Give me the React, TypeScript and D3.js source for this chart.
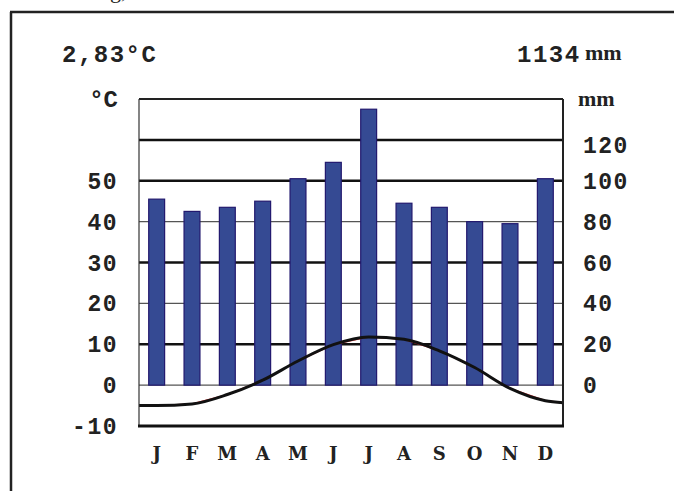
import React from "react";
import * as d3 from "d3";

const months = ["J", "F", "M", "A", "M", "J", "J", "A", "S", "O", "N", "D"];
const precip = [91, 85, 87, 90, 101, 109, 135, 89, 87, 80, 79, 101];
const temp = [-5.0, -4.6, -2.3, 1.2, 5.9, 9.9, 11.8, 11.2, 8.4, 4.3, -0.8, -3.8];
const tempEdges = [-5.0, -4.3];
const tempTicks = [-10, 0, 10, 20, 30, 40, 50];
const precipTicks = [0, 20, 40, 60, 80, 100, 120];
const gridTemps = [0, 10, 20, 30, 40, 50, 60];
const thickGrid = [10, 30, 50, 60];
const annualTemp = "2,83°C";
const annualPrecip = "1134";

export default function App() {
  const W = 674, H = 491;
  const left = 139, right = 563, top = 99, bottom = 426;
  const yT = d3.scaleLinear().domain([-10, 70]).range([bottom, top]);
  const yP = d3.scaleLinear().domain([-20, 140]).range([bottom, top]);
  const xB = d3.scaleBand<number>().domain(d3.range(12)).range([left, right]).paddingInner(0.55).paddingOuter(0.275);
  const xL = d3.scaleLinear().domain([0, 12]).range([left, right]);

  const pts: [number, number][] = [
    [0, tempEdges[0]],
    ...temp.map((t, i) => [i + 0.5, t] as [number, number]),
    [12, tempEdges[1]],
  ];
  const curve = d3.line<[number, number]>().x(d => xL(d[0])).y(d => yT(d[1])).curve(d3.curveMonotoneX);
  const straight = d3.line<[number, number]>().x(d => xL(d[0])).y(d => yT(d[1]));

  const mono = "'Liberation Mono', 'DejaVu Sans Mono', monospace";
  const serif = "'Liberation Serif', 'DejaVu Serif', serif";
  const slab = "'DejaVu Serif', 'Liberation Serif', serif";

  return (
    <svg width={W} height={H} style={{ position: "absolute", left: 0, top: 0, background: "#fff" }}>
      <rect x={0} y={0} width={W} height={H} fill="#fff" />
      <text x={110} y={-2} fontFamily={serif} fontSize={22} fill="#222">g,</text>
      {/* outer frame */}
      <line x1={10} y1={12} x2={W} y2={12} stroke="#222" strokeWidth={2.5} />
      <line x1={11} y1={12} x2={11} y2={H} stroke="#222" strokeWidth={2.5} />

      {/* header */}
      <text x={62} y={62} fontFamily={mono} fontWeight="bold" fontSize={24} letterSpacing={1.5} fill="#222">{annualTemp}</text>
      <text x={517} y={62} fontFamily={mono} fontWeight="bold" fontSize={24} letterSpacing={1.5} fill="#222">{annualPrecip}</text>
      <text x={585} y={60} fontFamily={serif} fontWeight="bold" fontSize={22} fill="#222">mm</text>
      <text x={118} y={107} textAnchor="end" fontFamily={mono} fontWeight="bold" fontSize={24} fill="#222">°C</text>
      <text x={578} y={106} fontFamily={serif} fontWeight="bold" fontSize={22} fill="#222">mm</text>

      {/* grid */}
      {gridTemps.map(t => {
        const thick = thickGrid.includes(t);
        return (
          <line key={t} x1={left} x2={right} y1={yT(t)} y2={yT(t)}
            stroke={thick ? "#111" : "#555"} strokeWidth={thick ? 2.5 : 1.2} />
        );
      })}

      {/* bars */}
      {precip.map((p, i) => (
        <rect key={i} x={xB(i)} y={yP(p)} width={xB.bandwidth()} height={yP(0) - yP(p)}
          fill="#354a93" stroke="#22196e" strokeWidth={1.2} />
      ))}

      {/* temperature */}
      <path d={straight(pts) || ""} fill="none" stroke="#e03a3a" strokeWidth={1.2} />
      <path d={curve(pts) || ""} fill="none" stroke="#111" strokeWidth={3} />

      {/* plot border */}
      <line x1={left} x2={right} y1={top} y2={top} stroke="#222" strokeWidth={2} />
      <line x1={left} x2={left} y1={top} y2={bottom} stroke="#333" strokeWidth={1.2} />
      <line x1={right} x2={right} y1={top} y2={bottom} stroke="#222" strokeWidth={2} />
      <line x1={left - 1} x2={right + 1} y1={bottom} y2={bottom} stroke="#111" strokeWidth={3} />

      {/* left ticks */}
      {tempTicks.map(t => (
        <text key={t} x={118} y={yT(t) + 8} textAnchor="end" fontFamily={mono} fontWeight="bold"
          fontSize={23} letterSpacing={1.5} fill="#222">{t}</text>
      ))}
      {/* right ticks */}
      {precipTicks.map(p => (
        <text key={p} x={583} y={yP(p) + 8 + (p === 120 ? 5 : 0)} fontFamily={mono} fontWeight="bold"
          fontSize={23} letterSpacing={1.5} fill="#222">{p}</text>
      ))}
      {/* months */}
      {months.map((m, i) => (
        <text key={i} x={xB(i)! + xB.bandwidth() / 2} y={460} textAnchor="middle" fontFamily={slab}
          fontWeight="bold" fontSize={18} fill="#222">{m}</text>
      ))}
    </svg>
  );
}
